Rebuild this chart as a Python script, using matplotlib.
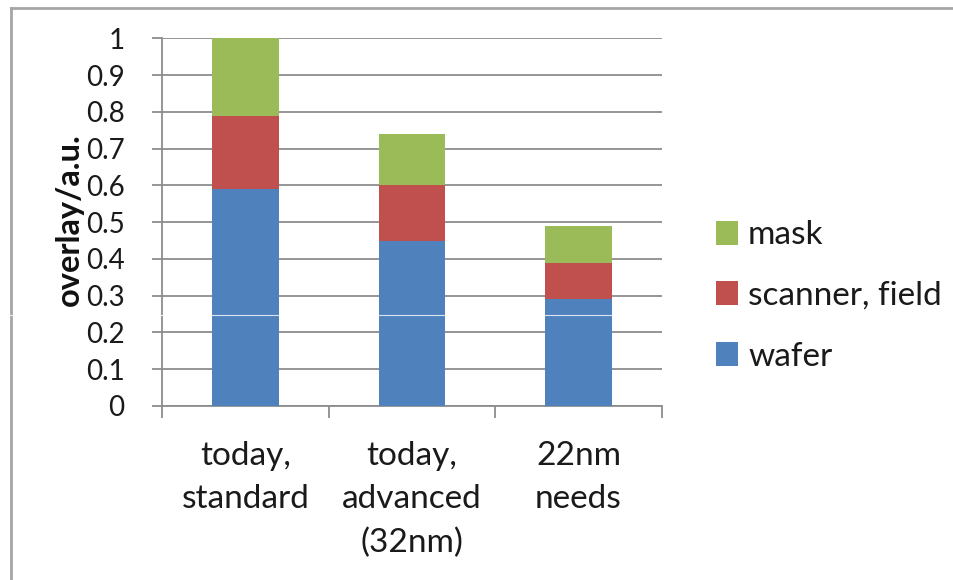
import numpy as np
import matplotlib
matplotlib.use("Agg")
import matplotlib.pyplot as plt
from matplotlib.lines import Line2D
from matplotlib.patches import Patch

plt.rcParams['font.family'] = ['Lato', 'DejaVu Sans']

categories = ["today,\nstandard", "today,\nadvanced\n(32nm)", "22nm\nneeds"]
wafer = [0.59, 0.45, 0.29]
scanner = [0.20, 0.15, 0.10]
mask = [0.21, 0.14, 0.10]
series_names = ["wafer", "scanner, field", "mask"]
colors = ["#4F81BD", "#C0504D", "#9BBB59"]
yticks = [0, 0.1, 0.2, 0.3, 0.4, 0.5, 0.6, 0.7, 0.8, 0.9, 1]
ytick_labels = ["0", "0.1", "0.2", "0.3", "0.4", "0.5", "0.6", "0.7", "0.8", "0.9", "1"]

W, H = 954, 580
fig = plt.figure(figsize=(W / 100, H / 100), dpi=100)
ax = fig.add_axes([162.3 / W, 1 - 406 / H, (661.7 - 162.3) / W, (406 - 38.3) / H])

x = np.arange(len(categories))
bottom = np.zeros(len(categories))
for vals, c in zip([wafer, scanner, mask], colors):
    ax.bar(x, vals, 0.4, bottom=bottom, color=c, zorder=3)
    bottom += np.array(vals)

ax.set_xlim(-0.5, len(categories) - 0.5)
ax.set_ylim(0, 1)
ax.set_yticks(yticks)
ax.set_yticklabels(ytick_labels, fontsize=20, color="#1a1a1a")
ax.yaxis.grid(True, color="#8c8c8c", lw=1.3, zorder=0)

# category boundaries get the tick marks, labels sit at bar centres
ax.set_xticks(np.arange(-0.5, len(categories)), minor=False)
ax.set_xticklabels([])
ax.set_xticks(x, minor=True)
ax.set_xticklabels(categories, minor=True, fontsize=24, linespacing=1.55,
                   va="top", color="#1a1a1a")
ax.tick_params(axis="x", which="major", length=8.6, width=1.3, color="#8c8c8c", direction="out")
ax.tick_params(axis="x", which="minor", length=0, pad=25)
ax.tick_params(axis="y", length=7.2, width=1.3, color="#8c8c8c", pad=20)

for s in ["top", "right"]:
    ax.spines[s].set_visible(False)
for s in ["left", "bottom"]:
    ax.spines[s].set_color("#8c8c8c")
    ax.spines[s].set_linewidth(1.3)

fig.text(69 / W, 1 - 220 / H, "overlay/a.u.", rotation=90, ha="center", va="center",
         fontsize=23.5, fontweight="bold", color="#111111")

handles = [Patch(facecolor=c) for c in colors][::-1]
leg = fig.legend(handles, series_names[::-1], loc="center left",
                 bbox_to_anchor=(716 / W, 1 - 296 / H), frameon=False, fontsize=24,
                 handlelength=0.66, handleheight=0.72, handletextpad=0.3,
                 labelspacing=0.92, borderpad=0, borderaxespad=0)
for t in leg.get_texts():
    t.set_color("#1a1a1a")

# outer chart frame (left and top edges visible)
fig.add_artist(Line2D([11.5 / W, 11.5 / W], [0, 1 - 7.5 / H], transform=fig.transFigure,
                      color="#a6a6a6", lw=2))
fig.add_artist(Line2D([11.5 / W, 1], [1 - 7.5 / H, 1 - 7.5 / H], transform=fig.transFigure,
                      color="#a6a6a6", lw=2))
# thin seam across the image
fig.add_artist(Line2D([0, 1], [1 - 315 / H, 1 - 315 / H], transform=fig.transFigure,
                      color="white", lw=0.8, alpha=0.8, zorder=10))

fig.savefig("out.png", dpi=100)
